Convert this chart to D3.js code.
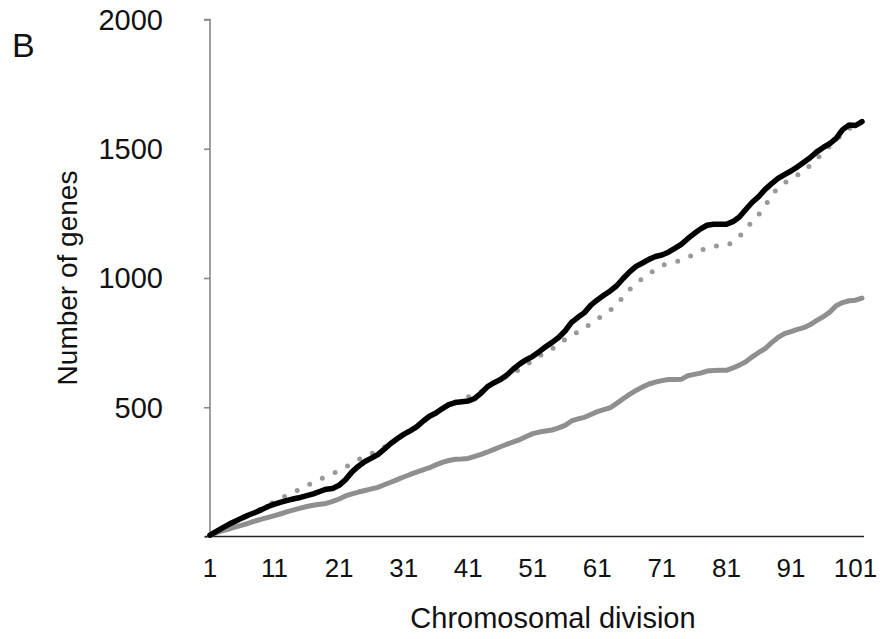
<!DOCTYPE html>
<html>
<head>
<meta charset="utf-8">
<script src="https://cdn.jsdelivr.net/npm/d3@7"></script>
<style>
  html, body { margin: 0; padding: 0; background: #fff; }
  svg { display: block; font-family: "Liberation Sans", Arial, Helvetica, sans-serif; }
</style>
</head>
<body>
<svg id="chart" width="885" height="639"></svg>
<script>
// ---- data ----
const divisions = d3.range(1, 103); // chromosomal divisions 1..102
const xTickLabels = [1, 11, 21, 31, 41, 51, 61, 71, 81, 91, 101];
const yTickLabels = [500, 1000, 1500, 2000];

const observedAll = [5,20,34,48,60,72,83,93,104,116,125,133,140,146,151,158,165,174,183,186,
  198,220,250,272,290,303,317,338,360,378,395,409,424,446,465,478,495,510,518,521,
  524,534,555,580,595,607,625,648,668,684,697,715,734,751,770,795,828,848,866,895,
  915,933,950,970,998,1024,1045,1058,1072,1083,1089,1100,1115,1130,1152,1172,1190,1204,1208,1208,
  1208,1218,1236,1265,1293,1315,1343,1365,1385,1400,1414,1430,1448,1466,1488,1505,1520,1540,1574,1592,
  1590,1605];

const observedSubset = [5,15,23,30,37,44,52,60,67,74,81,88,96,103,110,116,121,125,128,136,
  145,157,165,172,178,184,190,200,210,220,230,240,249,258,266,277,287,294,299,300,
  302,310,318,327,337,347,357,366,375,387,398,404,408,412,420,430,447,455,461,472,
  483,491,498,515,533,550,565,578,590,597,603,607,607,608,622,627,632,640,642,643,
  643,652,663,676,695,712,727,750,770,785,793,801,808,820,836,850,868,893,905,912,
  914,922];

const expectedAll = [5,18,32,46,60,72,84,96,108,122,135,148,160,171,184,196,209,221,232,243,
  255,268,283,297,310,320,332,346,362,378,395,410,425,445,465,480,495,510,520,530,
  540,548,560,580,595,607,620,630,650,665,680,698,713,725,745,762,778,792,805,825,
  842,857,875,900,925,955,978,998,1015,1033,1048,1058,1063,1068,1080,1092,1105,1118,1124,1124,
  1125,1140,1160,1190,1218,1245,1280,1318,1350,1368,1382,1398,1413,1437,1460,1488,1510,1535,1556,1578,
  1590,1600];

// ---- layout ----
const svg = d3.select("#chart");
const x = d3.scaleLinear().domain([1, 102]).range([210, 862]);
const y = d3.scaleLinear().domain([0, 2000]).range([536.5, 19.5]);

// y axis
const yAxis = d3.axisLeft(y).tickValues([0].concat(yTickLabels)).tickSize(6).tickFormat("");
const gy = svg.append("g").attr("transform", "translate(210,0)").call(yAxis);
gy.select(".domain").attr("stroke", "#888").attr("stroke-width", 1.6).attr("d", `M-6,${y(2000)}H0V${y(0)}`);
gy.selectAll(".tick line").attr("stroke", "#888").attr("stroke-width", 1.6);

svg.append("g").selectAll("text").data(yTickLabels).join("text")
  .attr("x", 163).attr("y", d => y(d)).attr("dy", "0.36em")
  .attr("text-anchor", "end").attr("font-size", 29).attr("fill", "#111")
  .text(d => d);

// x axis
const xAxis = d3.axisBottom(x).tickValues(xTickLabels).tickSize(0).tickFormat("");
const gx = svg.append("g").attr("transform", `translate(0,${y(0)})`).call(xAxis);
gx.select(".domain").attr("stroke", "#222").attr("stroke-width", 1.6).attr("d", "M205,0H864");

svg.append("g").selectAll("text").data(xTickLabels).join("text")
  .attr("x", d => x(d)).attr("y", 577)
  .attr("text-anchor", "middle").attr("font-size", 26).attr("fill", "#111")
  .text(d => d);

// lines
const line = d3.line().x((d, i) => x(divisions[i])).y(d => y(d));

svg.append("path").datum(observedSubset).attr("d", line)
  .attr("fill", "none").attr("stroke", "#8f8f8f").attr("stroke-width", 5)
  .attr("stroke-linejoin", "round").attr("stroke-linecap", "round");

svg.append("path").datum(expectedAll).attr("d", line)
  .attr("fill", "none").attr("stroke", "#999").attr("stroke-width", 5)
  .attr("stroke-dasharray", "0,14").attr("stroke-linecap", "round");

svg.append("path").datum(observedAll).attr("d", line)
  .attr("fill", "none").attr("stroke", "#000").attr("stroke-width", 5.5)
  .attr("stroke-linejoin", "round").attr("stroke-linecap", "round");

// titles
svg.append("text").attr("x", 553).attr("y", 628).attr("text-anchor", "middle")
  .attr("font-size", 29).attr("fill", "#111").text("Chromosomal division");

svg.append("text").attr("transform", "translate(77,278) rotate(-90)").attr("text-anchor", "middle")
  .attr("font-size", 28).attr("fill", "#111").text("Number of genes");

svg.append("text").attr("x", 12).attr("y", 57).attr("font-size", 34).attr("fill", "#111").text("B");
</script>
</body>
</html>
